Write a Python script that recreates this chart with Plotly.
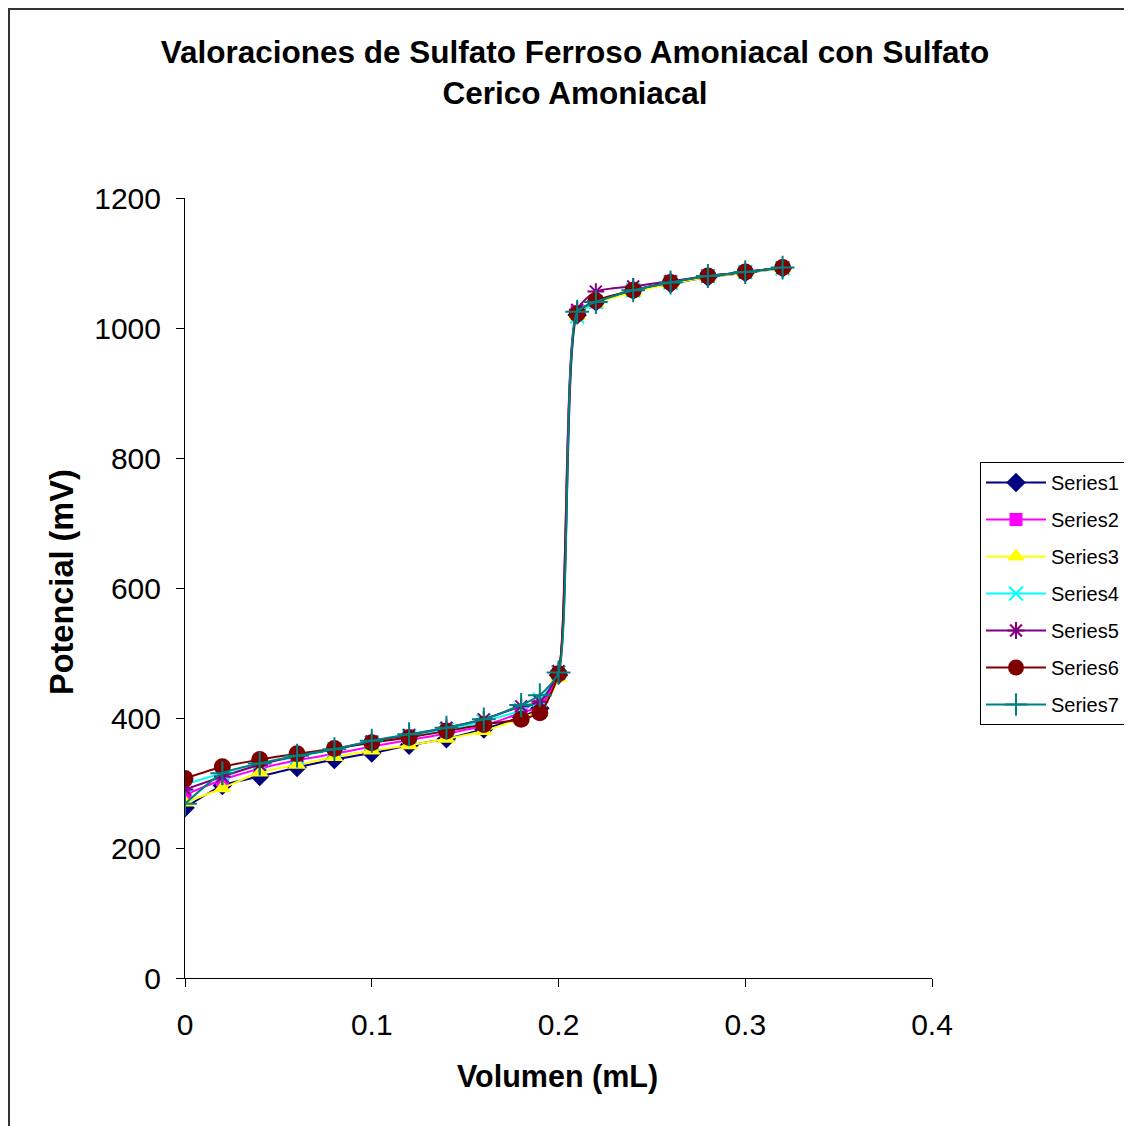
import plotly.graph_objects as go

volumen = [0, 0.02, 0.04, 0.06, 0.08, 0.10, 0.12, 0.14, 0.16, 0.18, 0.19, 0.20,
           0.21, 0.22, 0.24, 0.26, 0.28, 0.30, 0.32]

series1 = [262, 296, 310, 324, 336, 346, 358, 368, 383, 402, 415, 466,
           1020, 1040, 1058, 1068, 1078, 1085, 1092]
series2 = [282, 305, 322, 335, 345, 356, 366, 376, 388, 408, 418, 470,
           1025, 1040, 1058, 1070, 1080, 1086, 1093]
series3 = [270, 292, 316, 328, 340, 350, 358, 368, 380, 400, 412, 462,
           1018, 1038, 1055, 1068, 1078, 1085, 1092]
series4 = [298, 315, 330, 340, 352, 362, 372, 382, 395, 412, 428, 470,
           1018, 1040, 1058, 1070, 1080, 1086, 1092]
series5 = [290, 310, 328, 342, 352, 364, 374, 385, 398, 418, 425, 472,
           1028, 1056, 1064, 1072, 1080, 1086, 1093]
series6 = [307, 325, 336, 345, 353, 362, 370, 380, 390, 398, 408, 468,
           1022, 1042, 1058, 1070, 1080, 1086, 1093]
series7 = [268, 315, 330, 342, 352, 365, 375, 385, 398, 420, 435, 470,
           1025, 1040, 1058, 1070, 1080, 1086, 1093]

names = ["Series1", "Series2", "Series3", "Series4", "Series5", "Series6", "Series7"]
values = [series1, series2, series3, series4, series5, series6, series7]
colors = ["#000080", "#FF00FF", "#FFFF00", "#00FFFF", "#800080", "#800000", "#008080"]
symbols = ["diamond", "square", "triangle-up", "x-thin-open", "asterisk-open",
           "circle", "cross-thin-open"]
sizes = [15, 13, 16, 14, 14, 17, 17]

FONT = "Liberation Sans, Arial, sans-serif"

# page offset of the figure inside the browser (body margin)
OFF = 8
L, T = 185 - OFF, 198 - OFF
PW, PH = 747, 780
W, H = 1132, 1126


def px(xp):
    return (xp - OFF - L) / PW


def py(yp):
    return (T + PH - (yp - OFF)) / PH


fig = go.Figure()
for n, v, c, s, sz in zip(names, values, colors, symbols, sizes):
    fig.add_trace(go.Scatter(
        x=volumen, y=v, name=n, mode="lines+markers",
        line=dict(color=c, width=2, shape="spline", smoothing=0.6),
        marker=dict(symbol=s, size=sz, color=c,
                    line=dict(color=c, width=2 if "open" in s else 0)),
        legendgroup=n,
    ))

fig.update_layout(
    width=W, height=H,
    margin=dict(l=L, r=W - L - PW, t=T, b=H - T - PH),
    paper_bgcolor="white", plot_bgcolor="white",
    font=dict(family=FONT, color="black"),
    title=dict(text="<b>Valoraciones de Sulfato Ferroso Amoniacal con Sulfato<br>Cerico Amoniacal</b>",
               x=(575 - OFF) / W, xanchor="center", y=1 - (63 - OFF) / H, yanchor="middle",
               font=dict(size=31.5, family=FONT, color="black")),
    showlegend=True,
    legend=dict(x=px(980), xanchor="left", y=py(462), yanchor="top",
                bordercolor="black", borderwidth=1, bgcolor="white",
                font=dict(size=20, family=FONT), tracegroupgap=8,
                itemwidth=60),
    xaxis=dict(range=[0, 0.4], tickvals=[0, 0.1, 0.2, 0.3, 0.4],
               ticktext=["0", "0.1", "0.2", "0.3", "0.4"],
               showgrid=False, zeroline=False, showline=True, linecolor="black",
               linewidth=1, ticks="outside", ticklen=8, tickcolor="black",
               tickfont=dict(size=30, family=FONT), ticklabelstandoff=12),
    yaxis=dict(range=[0, 1200], tickvals=[0, 200, 400, 600, 800, 1000, 1200],
               showgrid=False, zeroline=False, showline=True, linecolor="black",
               linewidth=1, ticks="outside", ticklen=8, tickcolor="black",
               tickfont=dict(size=30, family=FONT), ticklabelstandoff=9),
    annotations=[
        dict(text="<b>Volumen (mL)</b>", xref="paper", yref="paper",
             x=px(557), y=py(1076), xanchor="center", yanchor="middle",
             showarrow=False, font=dict(size=30.5, family=FONT)),
        dict(text="<b>Potencial (mV)</b>", xref="paper", yref="paper",
             x=px(62), y=py(582), xanchor="center", yanchor="middle",
             textangle=-90, showarrow=False, font=dict(size=32.5, family=FONT)),
    ],
    shapes=[
        dict(type="rect", xref="paper", yref="paper",
             x0=px(9), x1=px(1200), y0=py(1200), y1=py(9),
             line=dict(color="#333333", width=2), layer="below"),
    ],
)

fig.write_html("out.html")
